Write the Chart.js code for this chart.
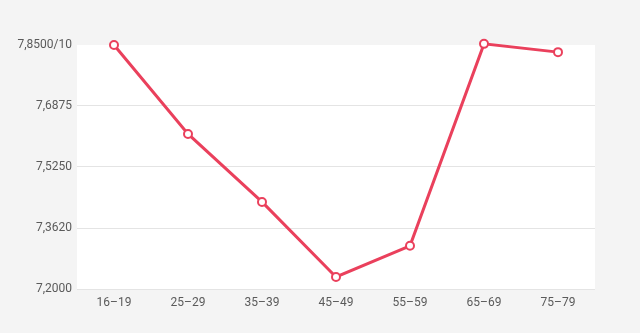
<!DOCTYPE html>
<html>
<head>
<meta charset="utf-8">
<script src="https://cdn.jsdelivr.net/npm/chart.js@4"></script>
<style>
  html, body { margin: 0; padding: 0; background: #f4f4f4; }
  #wrap { width: 640px; height: 333px; }
</style>
</head>
<body>
<div id="wrap"><canvas id="ageChart" width="640" height="333"></canvas></div>
<script>
// age groups and the values
const ageGroups = ['16–19', '25–29', '35–39', '45–49', '55–59', '65–69', '75–79'];
const scores = [7.85, 7.613, 7.432, 7.232, 7.315, 7.853, 7.831];

// y ticks as they appear in the original
const tickValues = [7.2, 7.362, 7.525, 7.6875, 7.85];
const tickLabels = ['7,2000', '7,3620', '7,5250', '7,6875', '7,8500/10'];

const lineColor = 'rgb(234, 64, 92)';

// paint the plot area white, page stays grey
const areaBg = {
  id: 'areaBg',
  beforeDraw(chart) {
    const { ctx, chartArea: a } = chart;
    ctx.save();
    ctx.fillStyle = '#ffffff';
    ctx.fillRect(a.left, a.top, a.right - a.left, a.bottom - a.top);
    ctx.restore();
  }
};

Chart.defaults.font.family = 'Roboto, sans-serif';
Chart.defaults.font.size = 12;
Chart.defaults.color = '#5a5a5a';

const ctx = document.getElementById('ageChart').getContext('2d');
new Chart(ctx, {
  type: 'line',
  data: {
    labels: ageGroups,
    datasets: [{
      data: scores,
      borderColor: lineColor,
      borderWidth: 3,
      pointBackgroundColor: '#ffffff',
      pointBorderColor: lineColor,
      pointBorderWidth: 2,
      pointRadius: 4,
      tension: 0,
      clip: 8
    }]
  },
  options: {
    responsive: false,
    animation: false,
    layout: { padding: { top: 45, right: 45, bottom: 0, left: 0 } },
    plugins: { legend: { display: false }, tooltip: { enabled: false } },
    scales: {
      x: {
        offset: true,
        grid: { display: false, drawTicks: false },
        border: { display: false },
        ticks: { padding: 7, maxRotation: 0 },
        afterFit(scale) { scale.height = 44; }
      },
      y: {
        min: 7.2,
        max: 7.85,
        afterBuildTicks(scale) {
          scale.ticks = tickValues.map(v => ({ value: v }));
        },
        ticks: {
          padding: 5,
          callback: (val, i) => tickLabels[i]
        },
        grid: {
          drawTicks: false,
          color: c => c.index === tickValues.length - 1 ? 'rgba(0,0,0,0)' : '#e4e4e4'
        },
        border: { display: false },
        afterFit(scale) { scale.width = 77; }
      }
    }
  },
  plugins: [areaBg]
});
</script>
</body>
</html>
